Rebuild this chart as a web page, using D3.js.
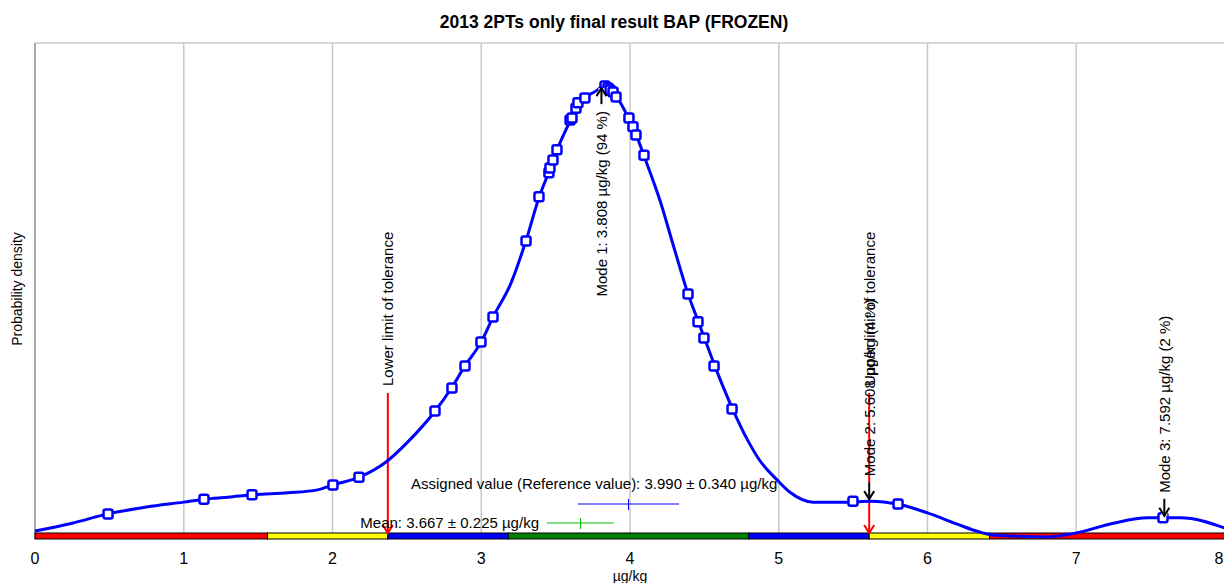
<!DOCTYPE html>
<html>
<head>
<meta charset="utf-8">
<script src="https://cdn.jsdelivr.net/npm/d3@7"></script>
<style>
  html, body { margin: 0; padding: 0; background: #fff; }
  svg { display: block; font-family: "Liberation Sans", Arial, sans-serif; }
</style>
</head>
<body>
<svg id="chart" width="1224" height="583"></svg>
<script>
// kernel density curve (µg/kg, relative density)
const curveX = [0.00, 0.25, 0.49, 0.75, 1.00, 1.14, 1.30, 1.46, 1.70, 1.90, 2.00, 2.18, 2.36, 2.50, 2.69, 2.80, 2.89, 3.00, 3.08, 3.20,
  3.30, 3.39, 3.46, 3.51, 3.60, 3.65, 3.70, 3.76, 3.83, 3.87, 3.91, 3.99, 4.04, 4.09, 4.20, 4.30, 4.39, 4.46, 4.50, 4.57,
  4.69, 4.79, 4.87, 4.99, 5.08, 5.23, 5.46, 5.62, 5.80, 6.00, 6.20, 6.35, 6.44, 6.80, 7.00, 7.25, 7.48, 7.59, 7.70, 8.00];
const curveY = [0.004, 0.020, 0.039, 0.053, 0.063, 0.069, 0.073, 0.078, 0.082, 0.088, 0.098, 0.114, 0.145, 0.184, 0.249, 0.296, 0.341, 0.390, 0.441, 0.510,
  0.596, 0.686, 0.741, 0.782, 0.843, 0.878, 0.890, 0.900, 0.912, 0.904, 0.890, 0.847, 0.814, 0.773, 0.680, 0.578, 0.488, 0.431, 0.398, 0.341,
  0.253, 0.190, 0.149, 0.108, 0.082, 0.063, 0.063, 0.065, 0.059, 0.041, 0.018, 0.002, -0.004, -0.008, 0.000, 0.020, 0.031, 0.031, 0.031, 0.010];

// participant results shown as squares on the curve
const resultX = [0.491, 1.136, 1.459, 2.003, 2.178, 2.689, 2.803, 2.891, 2.998, 3.079, 3.301, 3.388, 3.455, 3.462, 3.482, 3.509, 3.597, 3.610, 3.637,
  3.650, 3.697, 3.832, 3.852, 3.866, 3.886, 3.906, 3.993, 4.020, 4.040, 4.094, 4.390, 4.457, 4.497, 4.565, 4.686, 5.499, 5.802, 7.583];
const resultY = [0.039, 0.069, 0.078, 0.098, 0.114, 0.249, 0.296, 0.341, 0.390, 0.441, 0.596, 0.686, 0.735, 0.745, 0.761, 0.782, 0.843, 0.847, 0.867,
  0.878, 0.888, 0.912, 0.908, 0.904, 0.900, 0.890, 0.847, 0.829, 0.812, 0.771, 0.488, 0.431, 0.398, 0.341, 0.253, 0.065, 0.059, 0.031];

// score zones along the axis
const zoneEdges = [0, 1.563, 2.372, 3.181, 4.799, 5.608, 6.417, 8];
const zoneColors = ["#ff0000", "#ffff00", "#0000ff", "#008000", "#0000ff", "#ffff00", "#ff0000"];

const modeNames = ["Mode 1: 3.808 µg/kg (94 %)", "Mode 2: 5.608 µg/kg (4 %)", "Mode 3: 7.592 µg/kg (2 %)"];
const modeX = [3.808, 5.608, 7.592];
const modeY = [0.912, 0.065, 0.031];

const limitNames = ["Lower limit of tolerance", "Upper limit of tolerance"];
const limitX = [2.372, 5.608];

const assigned = 3.990, assignedU = 0.340;
const mean = 3.667, meanU = 0.225;
const tickLabels = ["0", "1", "2", "3", "4", "5", "6", "7", "8"];

const svg = d3.select("#chart");
const x = d3.scaleLinear().domain([0, 8]).range([35, 1225]);
const y = d3.scaleLinear().domain([0, 1]).range([533, 43]);
const plotTop = 43, barTop = 533, barH = 6;

svg.append("text")
    .attr("x", 614).attr("y", 28)
    .attr("text-anchor", "middle")
    .attr("font-size", 17.5).attr("font-weight", "bold")
    .text("2013 2PTs only final result BAP (FROZEN)");

// grid
svg.append("g").selectAll("line")
    .data(d3.range(1, 9))
    .join("line")
    .attr("x1", d => x(d)).attr("x2", d => x(d))
    .attr("y1", plotTop).attr("y2", barTop)
    .attr("stroke", "#c8c8c8").attr("stroke-width", 1.5);
svg.append("line")
    .attr("x1", x(0)).attr("x2", 1224).attr("y1", plotTop).attr("y2", plotTop)
    .attr("stroke", "#c8c8c8").attr("stroke-width", 1.5);
svg.append("line")
    .attr("x1", x(0)).attr("x2", x(0)).attr("y1", plotTop).attr("y2", barTop + barH)
    .attr("stroke", "#a8a8a8").attr("stroke-width", 2);

svg.append("text")
    .attr("transform", "translate(17,289) rotate(-90)")
    .attr("text-anchor", "middle").attr("dominant-baseline", "central")
    .attr("font-size", 14)
    .text("Probability density");

// tick labels (last one kept inside the page edge)
svg.append("g").selectAll("text")
    .data(tickLabels)
    .join("text")
    .attr("x", (d, i) => Math.min(x(i), 1219)).attr("y", 564)
    .attr("text-anchor", "middle").attr("font-size", 16)
    .text(d => d);
svg.append("text")
    .attr("x", x(4)).attr("y", 581)
    .attr("text-anchor", "middle").attr("font-size", 14)
    .text("µg/kg");

// zone bar
svg.append("g").selectAll("rect")
    .data(zoneColors)
    .join("rect")
    .attr("x", (d, i) => x(zoneEdges[i]))
    .attr("width", (d, i) => x(zoneEdges[i + 1]) - x(zoneEdges[i]))
    .attr("y", barTop).attr("height", barH)
    .attr("fill", d => d)
    .attr("stroke", "#000").attr("stroke-width", 1);

function chevron(px, tip, dir) {
    // dir 1 = pointing down, -1 = up
    return `M${px - 5},${tip - dir * 8}L${px},${tip}L${px + 5},${tip - dir * 8}`;
}

// tolerance limits
limitX.forEach((v, i) => {
    svg.append("line")
        .attr("x1", x(v)).attr("x2", x(v)).attr("y1", 393).attr("y2", barTop)
        .attr("stroke", "#ff0000").attr("stroke-width", 2);
    svg.append("path")
        .attr("d", chevron(x(v), barTop, 1))
        .attr("fill", "none").attr("stroke", "#ff0000").attr("stroke-width", 2);
    svg.append("text")
        .attr("transform", `translate(${x(v)},386) rotate(-90)`)
        .attr("dominant-baseline", "central").attr("font-size", 15)
        .text(limitNames[i]);
});

// density curve
const pts = curveX.map((v, i) => [v, curveY[i]]);
svg.append("path")
    .datum(pts)
    .attr("fill", "none")
    .attr("stroke", "#0000ff")
    .attr("stroke-width", 3)
    .attr("d", d3.line()
        .x(d => x(d[0]))
        .y(d => y(d[1]))
        .curve(d3.curveMonotoneX));

svg.append("g").selectAll("rect")
    .data(resultX.map((v, i) => [v, resultY[i]]))
    .join("rect")
    .attr("x", d => x(d[0]) - 4.5).attr("y", d => y(d[1]) - 4.5)
    .attr("width", 9).attr("height", 9).attr("rx", 2)
    .attr("fill", "#fff").attr("stroke", "#0000ff").attr("stroke-width", 2.5);

// modes
modeX.forEach((v, i) => {
    const px = x(v);
    const up = i === 0;
    const tip = up ? y(modeY[i]) + 2 : y(modeY[i]) - 2;
    const tail = up ? tip + 16 : tip - 17;
    const arrow = svg.append("g");
    arrow.append("line")
        .attr("x1", px).attr("x2", px).attr("y1", tail).attr("y2", tip)
        .attr("stroke", "#fff").attr("stroke-width", 6);
    arrow.append("line")
        .attr("x1", px).attr("x2", px).attr("y1", tail).attr("y2", tip)
        .attr("stroke", "#000").attr("stroke-width", 2);
    arrow.append("path")
        .attr("d", chevron(px, tip, up ? -1 : 1))
        .attr("fill", "none").attr("stroke", "#000").attr("stroke-width", 2);
    const t = svg.append("text")
        .attr("dominant-baseline", "central").attr("font-size", 15)
        .text(modeNames[i]);
    if (up) {
        t.attr("transform", `translate(${px},${tail + 7}) rotate(-90)`).attr("text-anchor", "end");
    } else {
        t.attr("transform", `translate(${px},${tail - 6}) rotate(-90)`);
    }
});

// assigned value and mean with uncertainties
svg.append("text")
    .attr("x", 411).attr("y", 489).attr("font-size", 15)
    .text(`Assigned value (Reference value): ${assigned.toFixed(3)} ± ${assignedU.toFixed(3)} µg/kg`);
svg.append("line")
    .attr("x1", x(assigned - assignedU)).attr("x2", x(assigned + assignedU))
    .attr("y1", 504).attr("y2", 504)
    .attr("stroke", "#0000ff").attr("stroke-width", 1);
svg.append("line")
    .attr("x1", x(assigned)).attr("x2", x(assigned)).attr("y1", 499).attr("y2", 510)
    .attr("stroke", "#0000ff").attr("stroke-width", 1);

svg.append("text")
    .attr("x", x(mean - meanU) - 8).attr("y", 528).attr("font-size", 15)
    .attr("text-anchor", "end")
    .text(`Mean: ${mean.toFixed(3)} ± ${meanU.toFixed(3)} µg/kg`);
svg.append("line")
    .attr("x1", x(mean - meanU)).attr("x2", x(mean + meanU))
    .attr("y1", 523).attr("y2", 523)
    .attr("stroke", "#00c000").attr("stroke-width", 1);
svg.append("line")
    .attr("x1", x(mean)).attr("x2", x(mean)).attr("y1", 518).attr("y2", 529)
    .attr("stroke", "#00c000").attr("stroke-width", 1);
</script>
</body>
</html>
